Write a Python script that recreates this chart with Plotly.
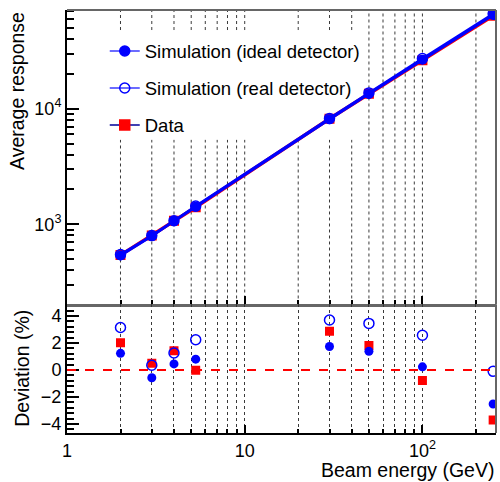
import math
import plotly.graph_objects as go

# Beam energies (GeV)
energy = [2, 3, 4, 5.3, 30, 50, 100, 250]

# Average response
resp_ideal = [536, 790, 1065, 1416, 8088, 13433, 26561, 64580]
resp_real = [547, 798, 1073, 1436, 8244, 13707, 27181, 66184]
resp_data = [541, 799, 1075, 1404, 8178, 13490, 26293, 63799]

# Deviation from linearity (%)
dev_ideal = [1.23, -0.58, 0.45, 0.80, 1.74, 1.38, 0.23, -2.52]
dev_real = [3.15, 0.35, 1.26, 2.24, 3.70, 3.45, 2.57, -0.10]
dev_data = [2.01, 0.50, 1.43, -0.02, 2.87, 1.81, -0.78, -3.70]

# Axis ticks
x_major = [1, 10, 100]
x_major_text = ["1", "10", "10<sup>2</sup>"]
x_minor = [2, 3, 4, 5, 6, 7, 8, 9, 20, 30, 40, 50, 60, 70, 80, 90, 200]
y_major = [1000, 10000]
y_major_text = ["10<sup>3</sup>", "10<sup>4</sup>"]
y_minor = [200, 300, 400, 500, 600, 700, 800, 900,
           2000, 3000, 4000, 5000, 6000, 7000, 8000, 9000,
           20000, 30000, 40000, 50000, 60000, 70000]
dev_major = [-4, -2, 0, 2, 4]
dev_major_text = ["\u22124", "\u22122", "0", "2", "4"]

BLUE = "#0000ff"
RED = "#ff0000"
GRID = "#3a3a3a"
FONT = "Liberation Sans"
SPLIT = 0.3038
X_RANGE = [0, 2.414]

# legend area of the upper panel (axis-domain fractions): grid lines stop here
LEG_X = [0.093, 0.69]
LEG_Y = [0.559, 0.932]

fig = go.Figure()

# --- upper panel: response vs energy
fig.add_trace(go.Scatter(
    x=energy, y=resp_data, mode="lines+markers", xaxis="x", yaxis="y",
    line=dict(color=RED, width=3.5),
    marker=dict(symbol="square", size=10, color=RED),
    showlegend=False))
fig.add_trace(go.Scatter(
    x=energy, y=resp_real, mode="lines+markers", xaxis="x", yaxis="y",
    line=dict(color=BLUE, width=2.5),
    marker=dict(symbol="circle-open", size=10, color=BLUE, line=dict(width=1.5)),
    showlegend=False))
fig.add_trace(go.Scatter(
    x=energy, y=resp_ideal, mode="lines+markers", xaxis="x", yaxis="y",
    line=dict(color=BLUE, width=2.5),
    marker=dict(symbol="circle", size=10, color=BLUE),
    showlegend=False))

# --- lower panel: deviation
fig.add_trace(go.Scatter(
    x=energy, y=dev_data, mode="markers", xaxis="x2", yaxis="y2",
    marker=dict(symbol="square", size=9, color=RED), showlegend=False))
fig.add_trace(go.Scatter(
    x=energy, y=dev_real, mode="markers", xaxis="x2", yaxis="y2",
    marker=dict(symbol="circle-open", size=10, color=BLUE, line=dict(width=1.5)),
    showlegend=False))
fig.add_trace(go.Scatter(
    x=energy, y=dev_ideal, mode="markers", xaxis="x2", yaxis="y2",
    marker=dict(symbol="circle", size=9, color=BLUE), showlegend=False))

# --- legend entries
legend_items = [
    ("Simulation (ideal detector)", "circle", BLUE, "#3a3aff"),
    ("Simulation (real detector)", "circle-open", BLUE, "#3a3aff"),
    ("Data", "square", RED, "#000099"),
]
for i, (name, sym, mcol, lcol) in enumerate(legend_items):
    fig.add_trace(go.Scatter(
        x=[None], y=[None], mode="lines+markers", name=name,
        legendgroup=f"g{i}", xaxis="x", yaxis="y",
        line=dict(color=lcol, width=1.5),
        marker=dict(symbol=sym, size=10, color=mcol, line=dict(width=1.5, color=mcol))))

tick_common = dict(
    type="log", range=X_RANGE, tickmode="array", tickvals=x_major,
    ticks="inside", ticklen=8, tickwidth=2, tickcolor="black", zeroline=False)

fig.update_layout(
    width=500, height=482, autosize=False,
    margin=dict(l=67, r=4, t=10, b=49),
    paper_bgcolor="white", plot_bgcolor="white",
    font=dict(family=FONT, size=18, color="black"),
    # upper x axis: grid drawn separately so it can skip the legend area
    xaxis=dict(anchor="y", showticklabels=False, showline=True,
               linecolor="#666666", linewidth=3, showgrid=False,
               minor=dict(tickmode="array", tickvals=x_minor, ticks="inside",
                          ticklen=4, tickwidth=1.5, tickcolor="black",
                          showgrid=False),
               **tick_common),
    xaxis2=dict(anchor="y2", showticklabels=True, ticktext=x_major_text,
                showline=True, linecolor="black", linewidth=2,
                tickfont=dict(size=18),
                showgrid=True, gridcolor=GRID, gridwidth=1, griddash="dot",
                minor=dict(tickmode="array", tickvals=x_minor, ticks="inside",
                           ticklen=4, tickwidth=1.5, tickcolor="black",
                           showgrid=True, gridcolor=GRID, gridwidth=1,
                           griddash="dot"),
                **tick_common),
    yaxis=dict(domain=[SPLIT, 1], type="log", range=[2.306, 4.854],
               tickmode="array", tickvals=y_major, ticktext=y_major_text,
               ticks="inside", ticklen=12, tickwidth=2, tickcolor="black",
               minor=dict(tickmode="array", tickvals=y_minor, ticks="inside",
                          ticklen=7, tickwidth=2, tickcolor="black", showgrid=False),
               showgrid=False, zeroline=False, showline=True,
               linecolor="black", linewidth=2, tickfont=dict(size=18)),
    yaxis2=dict(domain=[0, SPLIT], range=[-4.67, 4.85],
                tickmode="array", tickvals=dev_major, ticktext=dev_major_text,
                ticks="inside", ticklen=12, tickwidth=2, tickcolor="black",
                minor=dict(dtick=0.4, tick0=0, ticks="inside", ticklen=7,
                           tickwidth=2, tickcolor="black", showgrid=False),
                showgrid=False, zeroline=False, showline=True,
                linecolor="black", linewidth=2, tickfont=dict(size=18)),
    legend=dict(x=0.088, y=0.947, xanchor="left", yanchor="top",
                bgcolor="rgba(0,0,0,0)", borderwidth=0, tracegroupgap=10,
                traceorder="grouped", font=dict(size=18.5)),
    showlegend=True,
)

# dotted vertical grid of the upper panel, interrupted behind the legend
grid_line = dict(color=GRID, width=1, dash="dot")
for v in x_major[1:] + x_minor:
    xd = math.log10(v) / X_RANGE[1]
    if LEG_X[0] <= xd <= LEG_X[1]:
        spans = [(0, LEG_Y[0]), (LEG_Y[1], 1)]
    else:
        spans = [(0, 1)]
    for y0, y1 in spans:
        fig.add_shape(type="line", xref="x domain", yref="y domain",
                      x0=xd, x1=xd, y0=y0, y1=y1, line=grid_line, layer="below")

# frame edges (top / right) and the zero reference line
fig.add_shape(type="line", xref="x domain", yref="y domain",
              x0=0, x1=1, y0=1, y1=1, line=dict(color="#666666", width=2))
fig.add_shape(type="line", xref="x domain", yref="y domain",
              x0=1, x1=1, y0=0, y1=1, line=dict(color="#666666", width=2))
fig.add_shape(type="line", xref="x2 domain", yref="y2 domain",
              x0=1, x1=1, y0=0, y1=1, line=dict(color="#666666", width=2))
fig.add_shape(type="line", xref="x2 domain", yref="y2",
              x0=0, x1=1, y0=0, y1=0, line=dict(color=RED, width=2, dash="dash"))

# axis titles
fig.add_annotation(text="Beam energy (GeV)", xref="paper", yref="paper",
                   x=1, y=0, xanchor="right", yanchor="middle", yshift=-37,
                   showarrow=False, font=dict(size=19.5))
fig.add_annotation(text="Average response", xref="paper", yref="paper",
                   x=0, y=1, xanchor="center", yanchor="top", xshift=-50,
                   textangle=-90, showarrow=False, font=dict(size=19.5))
fig.add_annotation(text="Deviation (%)", xref="paper", yref="paper",
                   x=0, y=SPLIT / 2, xanchor="center", yanchor="middle", xshift=-45,
                   textangle=-90, showarrow=False, font=dict(size=19.5))

fig.write_html("out.html")
